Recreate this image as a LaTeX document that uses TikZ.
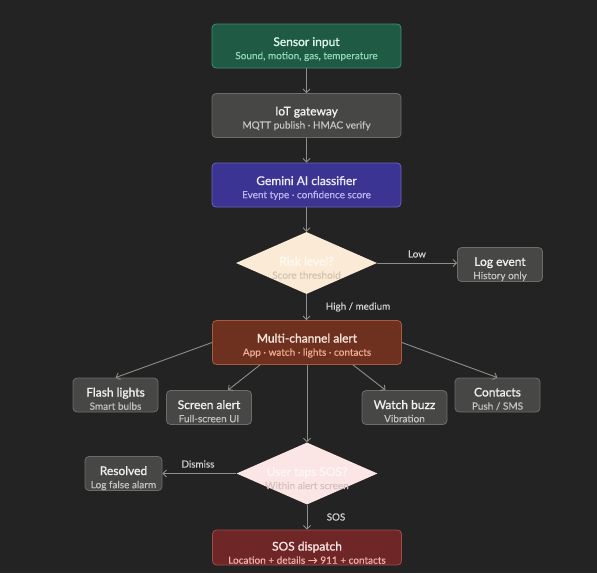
\documentclass[tikz,border=0pt]{standalone}
\usepackage{fontspec}
\setmainfont{Lato}
\newfontfamily\ttlfont{Lato}[FakeBold=1.2]
\newfontfamily\subfont{Lato}[FakeBold=0.4]
\usetikzlibrary{arrows.meta,shapes.geometric,calc}
\definecolor{bg}{HTML}{232323}
\definecolor{arrc}{HTML}{8E8E8C}
\definecolor{labc}{HTML}{D2D2D0}
\definecolor{grfill}{HTML}{1F5A45}\definecolor{grdraw}{HTML}{3F8F70}
\definecolor{grt}{HTML}{DDF5E9}\definecolor{grs}{HTML}{8FD9B5}
\definecolor{gyfill}{HTML}{474745}\definecolor{gydraw}{HTML}{6C6C6A}
\definecolor{gyt}{HTML}{F0F0EE}\definecolor{gys}{HTML}{C4C4C2}
\definecolor{pufill}{HTML}{3C3492}\definecolor{pudraw}{HTML}{6A62C0}
\definecolor{put}{HTML}{ECEAFD}\definecolor{pus}{HTML}{BBB5F3}
\definecolor{rkfill}{HTML}{FBEBD6}\definecolor{rkt}{HTML}{FFFAF2}\definecolor{rks}{HTML}{D3C3AF}
\definecolor{brfill}{HTML}{6E3120}\definecolor{brdraw}{HTML}{A85A40}
\definecolor{brt}{HTML}{FDE6DC}\definecolor{brs}{HTML}{F2AD94}
\definecolor{pkfill}{HTML}{FCE5E5}\definecolor{pkt}{HTML}{FFF7F7}\definecolor{pks}{HTML}{D6C0C0}
\definecolor{rdfill}{HTML}{6E2626}\definecolor{rddraw}{HTML}{A04A4A}
\definecolor{rdt}{HTML}{FDE4E4}\definecolor{rds}{HTML}{F0B2B2}
\newcommand{\nt}[5][4]{\raisebox{-#1pt}[\height][\depth]{\begin{tabular}{@{}c@{}}{\fontsize{12}{14}\ttlfont\color{#2}#4}\\[1.2pt]{\fontsize{10}{12}\subfont\color{#3}#5}\end{tabular}}}
\begin{document}
\begin{tikzpicture}[x=1pt,y=-1pt,
  box/.style={rectangle,rounded corners=4pt,line width=0.8pt,minimum width=189pt,minimum height=44pt,inner sep=0pt,align=center},
  leaf/.style={box,minimum width=85pt,minimum height=34pt,fill=gyfill,draw=gydraw},
  dia/.style={diamond,minimum width=141pt,minimum height=62pt,inner sep=0pt},
  txt/.style={align=center,inner sep=0pt},
  arr/.style={draw=arrc,line width=0.9pt,-{Straight Barb[length=3.5pt,width=7pt]}},
  lab/.style={font=\fontsize{9.8}{11}\subfont,text=labc,inner sep=0pt}]
\fill[bg] (0,0) rectangle (597,573);
\useasboundingbox (0,0) rectangle (597,573);
% main column
\node[box,fill=grfill,draw=grdraw] (sensor) at (306.5,46) {\nt{grt}{grs}{Sensor input}{Sound, motion, gas, temperature}};
\node[box,fill=gyfill,draw=gydraw] (iot) at (306.5,115.5) {\nt{gyt}{gys}{IoT gateway}{MQTT publish · HMAC verify}};
\node[box,fill=pufill,draw=pudraw] (gemini) at (306.5,185) {\nt{put}{pus}{Gemini AI classifier}{Event type · confidence score}};
\node[dia,fill=rkfill] (risk) at (306.5,263) {};
\node[txt] (risktxt) at (306.5,265.5) {\nt{rkt}{rks}{Risk level?}{Score threshold}};
\node[leaf] (log) at (500,264.5) {\nt[5.5]{gyt}{gys}{Log event}{History only}};
\node[box,fill=brfill,draw=brdraw] (multi) at (307,342.5) {\nt{brt}{brs}{Multi-channel alert}{App · watch · lights · contacts}};
\node[leaf] (flash) at (115.5,395) {\nt[5.5]{gyt}{gys}{Flash lights}{Smart bulbs}};
\node[leaf] (screen) at (209,407.5) {\nt[5.5]{gyt}{gys}{Screen alert}{Full-screen UI}};
\node[leaf] (watch) at (404.5,407.5) {\nt[5.5]{gyt}{gys}{Watch buzz}{Vibration}};
\node[leaf] (contacts) at (497.5,395) {\nt[5.5]{gyt}{gys}{Contacts}{Push / SMS}};
\node[dia,fill=pkfill] (sos) at (307,473.5) {};
\node[txt] (sostxt) at (307,476) {\nt{pkt}{pks}{User taps SOS?}{Within alert screen}};
\node[leaf,minimum width=77pt] (resolved) at (123.5,473.5) {\nt[5.5]{gyt}{gys}{Resolved}{Log false alarm}};
\node[box,fill=rdfill,draw=rddraw,minimum height=35pt] (dispatch) at (307,547.5) {\nt[7]{rdt}{rds}{SOS dispatch}{Location + details → 911 + contacts}};
% connectors
\draw[arr] (sensor) -- (iot);
\draw[arr] (iot) -- (gemini);
\draw[arr] (gemini.south) -- (risk.north);
\draw[arr] (risk.east) -- (log.west |- risk.east);
\draw[arr] (risk.south) -- (multi.north -| risk.south);
\draw[arr] (multi.west) -- (flash.north);
\draw[arr] ([xshift=-47pt]multi.south) -- ([xshift=19pt]screen.north);
\draw[arr] ([xshift=46pt]multi.south) -- ([xshift=-19pt]watch.north);
\draw[arr] (multi.east) -- (contacts.north);
\draw[arr] (multi.south) -- (sos.north);
\draw[arr] (sos.west) -- (resolved.east |- sos.west);
\draw[arr] (sos.south) -- (dispatch.north);
% labels
\node[lab] (lLow) at (417,254) {Low};
\node[lab] (lHigh) at (358,307) {High / medium};
\node[lab] (lDis) at (198,464) {Dismiss};
\node[lab] (lSos) at (336,517) {SOS};
\end{tikzpicture}
\end{document}
